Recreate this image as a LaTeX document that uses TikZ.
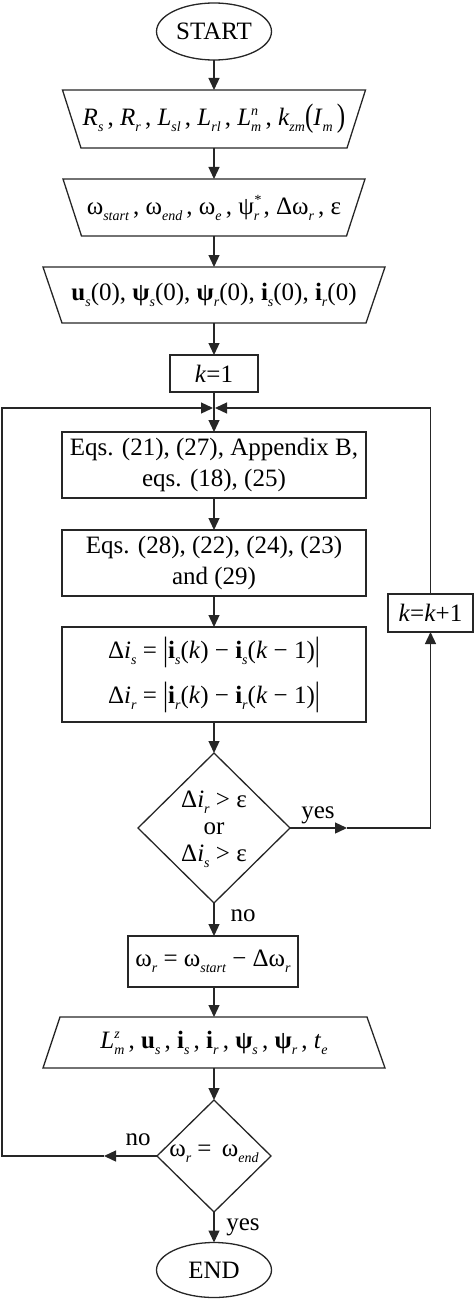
\documentclass[tikz,border=0pt]{standalone}
\usepackage{fontspec}
\setmainfont{Liberation Serif}
\usepackage{graphicx}
\usetikzlibrary{shapes.geometric,arrows.meta,calc}

\newcommand\sbs[1]{\raisebox{-6pt}{\fontsize{14}{14}\selectfont\itshape #1}}
\newcommand\sps[1]{\raisebox{10pt}{\fontsize{14}{14}\selectfont\itshape #1}}
\newcommand\sbsp[2]{\makebox[0pt][l]{\sps{#2}}\sbs{#1}}
\newcommand\vi[1]{\textit{#1}}
\newcommand\bv[1]{\textbf{#1}}
\newcommand\bigbar{\raisebox{-2pt}{\scalebox{1}[1.35]{|}}}
\newcommand\bigpar[1]{\raisebox{-1.5pt}{\scalebox{1}[1.3]{#1}}}

\tikzset{
 shp/.style={draw, line width=1.3pt},
 tbox/.style={inner sep=0pt, outer sep=0pt, align=center},
 rbox/.style={draw, rectangle, inner sep=0pt, outer sep=0pt, align=center},
 term/.style={draw, ellipse, inner sep=0pt, outer sep=0pt, minimum width=115pt, minimum height=57pt},
 dia/.style={draw, diamond, inner sep=0pt, outer sep=0pt},
 arr/.style={-{Triangle[length=12pt,width=11pt]}},
 lab/.style={inner sep=0pt, anchor=base}
}

\begin{document}
\begin{tikzpicture}[x=1pt,y=-1pt, line width=1.3pt, draw=black!85, every node/.style={font=\fontsize{25}{31}\selectfont}]
\useasboundingbox (0,0) rectangle (474,1300);

\node[term] (start) at (214,31.5) {START};

\node[tbox, minimum width=303pt, minimum height=58pt] (t1) at (214,119)
 {\vi{R}\sbs{s}\,, \vi{R}\sbs{r}\,, \vi{L}\sbs{sl}\,, \vi{L}\sbs{rl}\,, \vi{L}\sbsp{m}{n}\,, \vi{k}\sbs{zm}\bigpar{(}\vi{I}\sbs{m}\,\bigpar{)}};
\draw[shp] (t1.north west) -- (t1.north east) -- ([xshift=-18.5pt]t1.south east) -- ([xshift=18.5pt]t1.south west) -- cycle;

\node[tbox, minimum width=302pt, minimum height=57pt] (t2) at (214,207.5)
 {ω\sbs{start}\,, ω\sbs{end}\,, ω\sbs{e}\,, ψ\sbsp{r}{*}\,, Δω\sbs{r}\,, ε};
\draw[shp] (t2.north west) -- (t2.north east) -- ([xshift=-18.5pt]t2.south east) -- ([xshift=18.5pt]t2.south west) -- cycle;

\node[tbox, minimum width=342pt, minimum height=56pt] (t3) at (214,295)
 {\bv{u}\sbs{s}(0), \bv{ψ}\sbs{s}(0), \bv{ψ}\sbs{r}(0), \bv{i}\sbs{s}(0), \bv{i}\sbs{r}(0)};
\draw[shp] (t3.north west) -- (t3.north east) -- ([xshift=-19pt]t3.south east) -- ([xshift=19pt]t3.south west) -- cycle;

\node[rbox, minimum width=88pt, minimum height=37pt] (k1) at (214,373.5) {\vi{k}=1};

\coordinate (m) at (214,408);

\node[rbox, minimum width=304pt, minimum height=66pt] (e1) at (214,465)
 {Eqs. (21), (27), Appendix B,\\eqs. (18), (25)};
\node[rbox, minimum width=304pt, minimum height=66pt] (e2) at (214,563)
 {Eqs. (28), (22), (24), (23)\\and (29)};
\node[rbox, minimum width=304pt, minimum height=95pt] (e3) at (214,674.5)
 {Δ\vi{i}\sbs{s} = \bigbar\bv{i}\sbs{s}(\vi{k}) − \bv{i}\sbs{s}(\vi{k} − 1)\bigbar\\[14pt]
  Δ\vi{i}\sbs{r} = \bigbar\bv{i}\sbs{r}(\vi{k}) − \bv{i}\sbs{r}(\vi{k} − 1)\bigbar};

\node[rbox, minimum width=85pt, minimum height=38pt] (kk) at (430.5,613) {\vi{k}=\vi{k}+1};

\node[dia, minimum width=152pt, minimum height=150pt] (d1) at (214,828) {};
\node[tbox, font=\fontsize{25}{27}\selectfont] (d1t) at (214,829)
 {Δ\vi{i}\sbs{r} > ε\\or\\Δ\vi{i}\sbs{s} > ε};

\node[rbox, minimum width=170pt, minimum height=51pt] (om) at (213,961.5)
 {ω\sbs{r} = ω\sbs{start} − Δω\sbs{r}};

\node[tbox, minimum width=342pt, minimum height=51pt] (t4) at (214,1042.5)
 {\vi{L}\sbsp{m}{z}\,, \bv{u}\sbs{s}\,, \bv{i}\sbs{s}\,, \bv{i}\sbs{r}\,, \bv{ψ}\sbs{s}\,, \bv{ψ}\sbs{r}\,, \vi{t}\sbs{e}};
\draw[shp] (t4.south west) -- (t4.south east) -- ([xshift=-18pt]t4.north east) -- ([xshift=17pt]t4.north west) -- cycle;

\node[dia, minimum width=114pt, minimum height=112pt] (d2) at (214,1156) {};
\node[tbox] (d2t) at (214,1154) {ω\sbs{r} = \,ω\sbs{end}};

\node[term, minimum height=55pt] (end) at (214,1270) {END};

% main flow
\draw[arr] (start.south) -- (t1.north);
\draw[arr] (t1.south) -- (t2.north);
\draw[arr] (t2.south) -- (t3.north);
\draw[arr] (t3.south) -- (k1.north);
\draw[arr] (k1.south) -- (e1.north);
\draw[arr] (e1.south) -- (e2.north);
\draw[arr] (e2.south) -- (e3.north);
\draw[arr] (e3.south) -- (d1.north);
\draw[arr] (d1.south) -- (om.north -| d1.south);
\draw[arr] (om.south -| t4.north) -- (t4.north);
\draw[arr] (t4.south) -- (d2.north);
\draw[arr] (d2.south) -- (end.north);

% yes branch
\coordinate (yesm) at (347,828);
\coordinate (yesc) at (430.5,828);
\coordinate (rtop) at (430.5,408);
\draw[arr] (d1.east) -- (yesm);
\draw (yesm) -- (yesc);
\draw[arr] (yesc) -- (kk.south);
\draw[arr] (kk.north) -- (rtop) -- ([xshift=1pt]m);

% no branch
\coordinate (nom) at (104,1156);
\coordinate (nol) at (2,1156);
\coordinate (ltop) at (2,408);
\draw[arr] (d2.west) -- (nom);
\draw[arr] (nom) -- (nol) -- (ltop) -- ([xshift=-1pt]m);

% labels
\node[lab] (yes1) at (318,818) {yes};
\node[lab] (no1) at (243,921) {no};
\node[lab] (no2) at (138,1145) {no};
\node[lab] (yes2) at (243,1230) {yes};
\end{tikzpicture}
\end{document}
